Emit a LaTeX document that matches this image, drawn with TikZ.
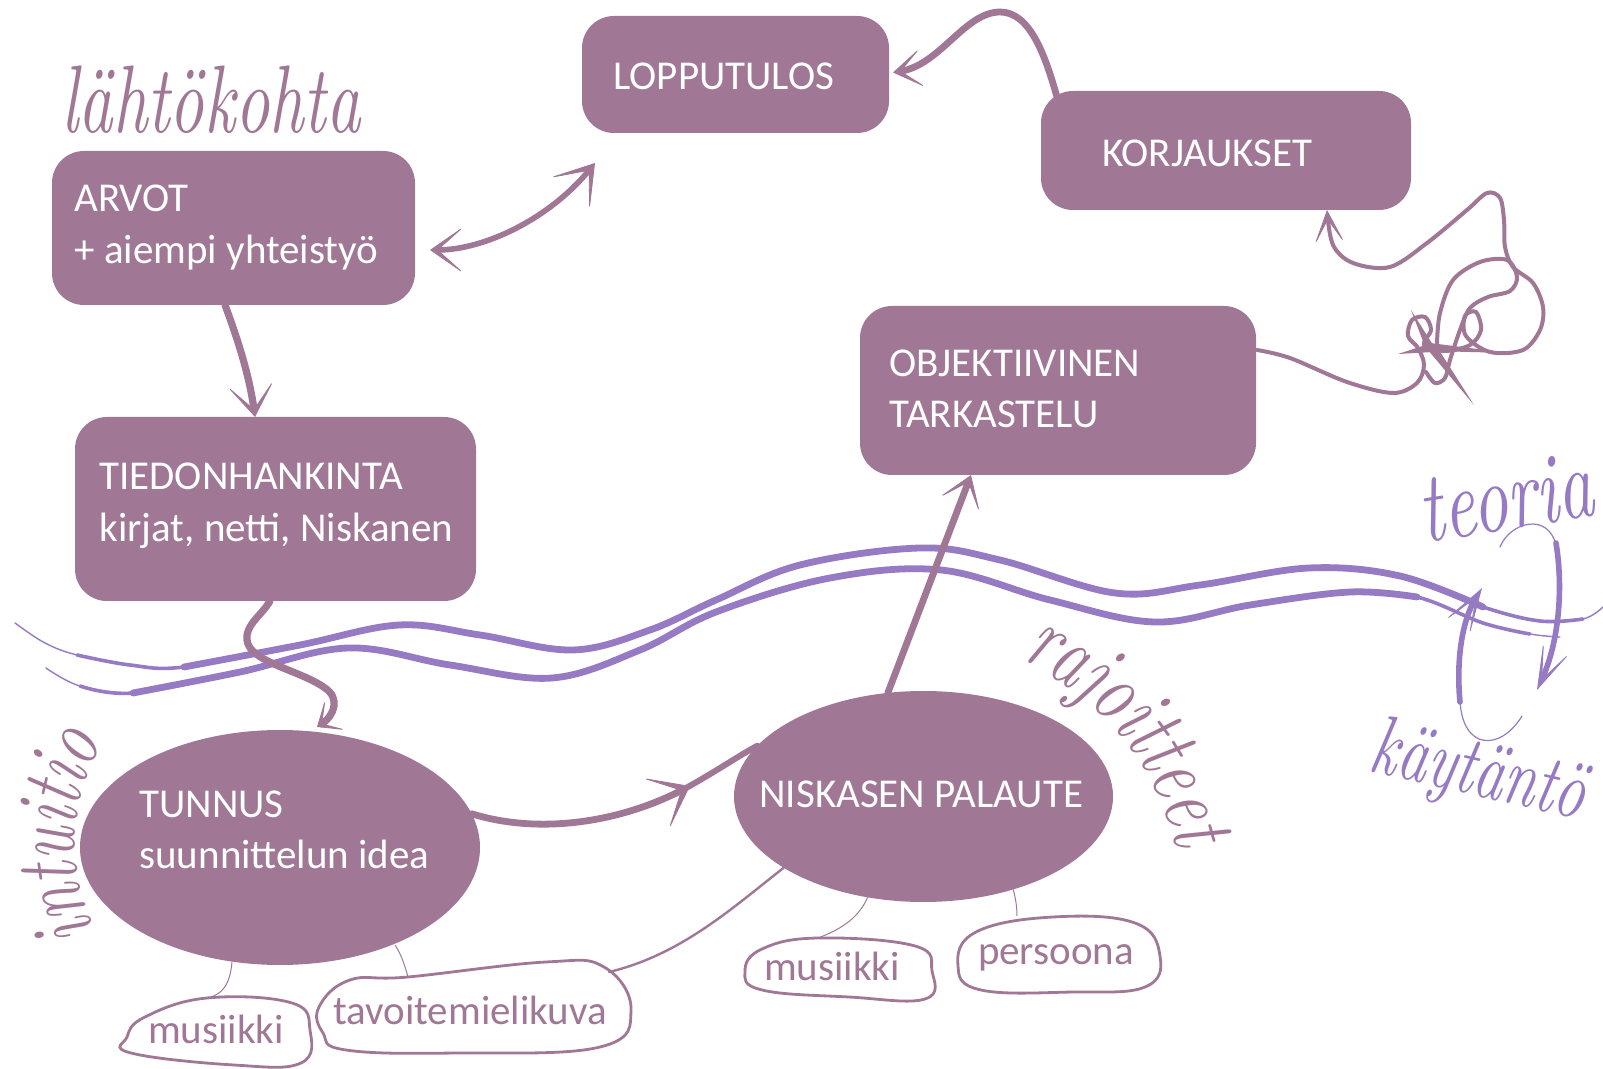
\documentclass[tikz,border=0pt]{standalone}
\usepackage{fontspec}
\setmainfont{Carlito}
\newfontfamily\hand{lmroman10-italic}[Extension=.otf,FakeStretch=0.7]
\usetikzlibrary{arrows.meta,shapes.geometric,calc,decorations.text}
\definecolor{mauve}{RGB}{160,120,150}
\definecolor{wave}{RGB}{150,122,195}
\begin{document}
\begin{tikzpicture}[x=0.5pt,y=-0.5pt,
  box/.style={rectangle, fill=mauve, rounded corners=16pt, inner sep=0pt, outer sep=0pt},
  oval/.style={ellipse, fill=mauve, inner sep=0pt, outer sep=0pt},
  btxt/.style={text=white, font=\fontsize{20.5}{25}\selectfont, inner sep=0pt, anchor=base west},
  stxt/.style={text=mauve, font=\fontsize{20.5}{25}\selectfont, inner sep=0pt, anchor=base},
  conn/.style={draw=mauve, line cap=round, line join=round},
  bubble/.style={draw=mauve, line width=1.4pt, fill=white},
  hair/.style={draw=mauve, line width=0.5pt},
  wv/.style={draw=wave, line cap=round, line join=round},
  hw/.style={inner sep=0pt, anchor=base}
]
\useasboundingbox (0,0) rectangle (1603,1069);
\fill[white] (0,0) rectangle (1603,1069);

% ---------- waves ----------
\draw[wv, line width=0.7pt] plot[smooth, tension=0.6] coordinates {(15,623) (45,643) (77,655) (130,665) (184,667) (300,645) (399,625) (480,635) (573,650) (650,630) (716,600) (800,565) (920,548) (1000,560) (1115,593) (1200,585) (1309,568) (1400,576) (1483,607) (1540,621) (1583,619) (1603,607)};
\draw[wv, line width=1.8pt] plot[smooth, tension=0.6] coordinates {(77,655) (130,665) (184,667) (300,645) (399,625) (480,635) (573,650) (650,630) (716,600) (800,565) (920,548) (1000,560) (1115,593) (1200,585) (1309,568) (1400,576) (1483,607) (1540,621) (1583,619)};
\draw[wv, line width=3.4pt] plot[smooth, tension=0.6] coordinates {(184,667) (300,645) (399,625) (480,635) (573,650) (650,630) (716,600) (800,565) (920,548) (1000,560) (1115,593) (1200,585) (1309,568) (1400,576) (1483,607)};
\draw[wv, line width=0.7pt] plot[smooth, tension=0.6] coordinates {(46,668) (80,686) (133,693) (240,672) (348,648) (450,665) (552,678) (640,650) (716,612) (830,578) (941,570) (1050,600) (1155,622) (1250,605) (1350,592) (1417,597) (1483,623) (1530,634) (1560,637)};
\draw[wv, line width=1.8pt] plot[smooth, tension=0.6] coordinates {(80,686) (133,693) (240,672) (348,648) (450,665) (552,678) (640,650) (716,612) (830,578) (941,570) (1050,600) (1155,622) (1250,605) (1350,592) (1417,597) (1483,623) (1530,634)};
\draw[wv, line width=3.4pt] plot[smooth, tension=0.6] coordinates {(133,693) (240,672) (348,648) (450,665) (552,678) (640,650) (716,612) (830,578) (941,570) (1050,600) (1155,622) (1250,605) (1350,592) (1417,597)};

% ---------- teoria / kaytanto cycle ----------
\draw[wv, line width=0.6pt] (1522,716) .. controls (1500,752) and (1462,750) .. (1460,700);
\draw[wv, line width=2.8pt, -{Stealth[length=26pt,width=16pt,inset=20pt,line width=0.4pt]}] (1460,702) .. controls (1456,660) and (1462,620) .. (1482,588);
\draw[wv, line width=0.6pt] (1500,547) .. controls (1510,522) and (1548,512) .. (1556,545);
\draw[wv, line width=2.8pt, -{Stealth[length=26pt,width=16pt,inset=20pt,line width=0.4pt]}] (1556,543) .. controls (1563,585) and (1560,640) .. (1537,690);

% ---------- boxes ----------
\node[box, minimum width=153.5pt, minimum height=58.5pt] (lop) at (735.5,74.5) {};
\node[box, minimum width=185pt, minimum height=59.5pt] (kor) at (1226,150.5) {};
\node[box, minimum width=181.5pt, minimum height=77pt] (arv) at (233.5,228) {};
\node[box, minimum width=200.5pt, minimum height=92pt] (tie) at (275.5,509) {};
\node[box, minimum width=198pt, minimum height=84.5pt] (obj) at (1058,390.5) {};
\node[oval, minimum width=200pt, minimum height=117.5pt] (tun) at (280,847.5) {};
\node[oval, minimum width=189.5pt, minimum height=105.5pt] (nis) at (923.5,796.5) {};

% ---------- main connectors ----------
\draw[conn, line width=2.8pt,
  {Stealth[length=18pt,width=25pt,inset=14pt,line width=0.4pt]}-{Stealth[length=21pt,width=27pt,inset=16pt,line width=0.4pt]}]
  ($(arv.east)+(15,22)$) .. controls (485,250) and (550,218) .. ($(lop.south west)+(13,30)$);

\draw[conn, line width=3.4pt, -{Stealth[length=16pt,width=21pt,inset=12pt,line width=0.4pt]}]
  ($(kor.north west)+(16,6)$) .. controls (1045,55) and (1030,12) .. (1000,12)
  .. controls (965,12) and (940,65) .. ($(lop.east)+(4,-2)$);

\draw[conn, line width=3.6pt, -{Stealth[length=18pt,width=25pt,inset=14pt,line width=0.4pt]}]
  ($(arv.south)+(-8.5,0)$) .. controls (240,345) and (250,380) .. ($(tie.north)+(-20.5,0)$);

\draw[conn, line width=3.6pt, -{Stealth[length=12pt,width=20pt,inset=9pt,line width=0.4pt]}]
  ($(tie.south)+(-5.5,0)$) .. controls (262,615) and (245,625) .. (247,640)
  .. controls (249,662) and (300,670) .. (325,688)
  .. controls (340,698) and (335,715) .. ($(tun.north)+(37,-3)$);

\draw[conn, line width=3.4pt, -{Stealth[length=20pt,width=30pt,inset=15pt,line width=0.4pt]}]
  (tun.10) .. controls (540,835) and (620,822) .. (690,786);
\draw[conn, line width=3pt] (686,788) .. controls (715,772) and (740,755) .. (nis.163);

\draw[conn, line width=3.4pt, -{Stealth[length=17pt,width=23pt,inset=13pt,line width=0.4pt]}]
  (nis.109) -- ($(obj.south)+(-87,0)$);

% ---------- knot ----------
\coordinate (k0) at ($(obj.north east)+(1,44)$);
\coordinate (k9) at ($(kor.south west)+(286,0)$);
\draw[conn, line width=2pt, -{Stealth[length=18pt,width=16pt,inset=13pt,line width=0.4pt]}]
  plot[smooth, tension=0.55] coordinates {(k0) (1290,358) (1347,382) (1393,393) (1417,383) (1424,365) (1418,348) (1408,336) (1412,320) (1425,317) (1431,330) (1424,345) (1445,351) (1470,345) (1481,330) (1476,312) (1465,316) (1466,336) (1490,352) (1523,350) (1540,330) (1543,307) (1533,283) (1513,267) (1505,247) (1504,220) (1500,198) (1487,193) (1467,210) (1427,243) (1390,267) (1353,263) (1333,245) (k9)};
\draw[conn, line width=2pt] plot[smooth, tension=0.55] coordinates {(1437,343) (1440,313) (1453,280) (1480,262) (1507,260) (1517,277) (1510,291) (1488,297) (1470,308) (1460,330) (1450,360) (1445,378) (1435,383) (1426,372)};
\fill[mauve] (1398,354) -- (1432,343) -- (1433,352) -- cycle;
\fill[mauve] (1411,310) -- (1433,345) -- (1426,349) -- cycle;
\fill[mauve] (1474,405) -- (1428,350) -- (1437,347) -- cycle;
\fill[mauve] (1509,353) -- (1430,343) -- (1431,351) -- cycle;

% ---------- box texts ----------
\node[btxt] (lopT) at (613,90) {LOPPUTULOS};
\node[btxt] (korT) at (1102,167) {KORJAUKSET};
\node[btxt] (arvT1) at (74,212) {ARVOT};
\node[btxt] (arvT2) at (74,264) {+ aiempi yhteistyö};
\node[btxt] (tieT1) at (99,490) {TIEDONHANKINTA};
\node[btxt] (tieT2) at (99,542) {kirjat, netti, Niskanen};
\node[btxt] (objT1) at (889,377) {OBJEKTIIVINEN};
\node[btxt] (objT2) at (889,428) {TARKASTELU};
\node[btxt] (tunT1) at (139,818) {TUNNUS};
\node[btxt] (tunT2) at (139,869) {suunnittelun idea};
\node[btxt] (nisT) at (759,807) {NISKASEN PALAUTE};

% ---------- bubbles ----------
\draw[bubble] plot[smooth cycle, tension=0.7] coordinates {(145,1017) (207,998) (292,1003) (310,1030) (301,1063) (234,1065) (131,1053) (127,1037)};
\draw[bubble] plot[smooth cycle, tension=0.7] coordinates {(319,1007) (350,980) (408,977) (546,962) (604,967) (631,1010) (600,1047) (457,1053) (346,1050) (323,1033)};
\draw[bubble] plot[smooth cycle, tension=0.7] coordinates {(745,971) (762,949) (818,938) (915,946) (932,971) (925,999) (849,997) (762,990)};
\draw[bubble] plot[smooth cycle, tension=0.7] coordinates {(958,966) (976,932) (1053,917) (1135,923) (1160,956) (1145,987) (1073,992) (981,990)};

\node[stxt] (mlT) at (216,1043) {musiikki};
\node[stxt] (tvT) at (470,1024) {tavoitemielikuva};
\node[stxt] (mrT) at (832,980) {musiikki};
\node[stxt] (peT) at (1056,964) {persoona};

\coordinate (mlTop) at (207,998);
\coordinate (tvTop) at (408,977);
\coordinate (tvR) at (609,972);
\coordinate (mrTop) at (818,938);
\coordinate (peTop) at (1017,916);

\draw[hair] ($(tun.south)+(-48,-3)$) .. controls (230,985) and (222,995) .. (mlTop);
\draw[hair] ($(tun.south)+(115,-20)$) .. controls (402,955) and (406,970) .. (tvTop);
\draw[conn, line width=1.2pt] (tvR) .. controls (680,955) and (730,910) .. (nis.207);
\draw[hair] (nis.241) .. controls (860,915) and (845,928) .. (mrTop);
\draw[hair] (nis.-46) .. controls (1016,900) and (1017,908) .. (peTop);

% ---------- handwriting ----------
\node[hw, text=mauve] (hLah) at (211,133) {\hand\fontsize{48}{48}\selectfont lähtökohta};
\node[hw, text=wave, rotate=9] (hTeo) at (1511,529) {\hand\fontsize{50}{50}\selectfont teoria};
\node[hw, text=wave, rotate=-13] (hKay) at (1474,795) {\hand\fontsize{42}{42}\selectfont käytäntö};
\path[decorate, decoration={text along path, text align=center,
  text={|\hand\fontsize{44}{44}\selectfont\color{mauve}|intuitio}}]
  (116,962) .. controls (60,890) and (60,790) .. (124,712);
\path[decorate, decoration={text along path, text align=center,
  text={|\hand\fontsize{46}{46}\selectfont\color{mauve}|rajoitteet}}]
  (1010,652) .. controls (1095,697) and (1155,748) .. (1180,862);
\end{tikzpicture}
\end{document}
